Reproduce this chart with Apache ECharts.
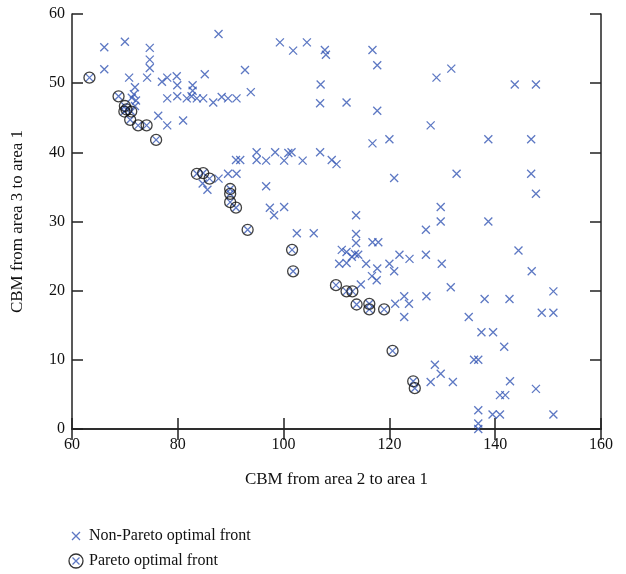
<!DOCTYPE html>
<html>
<head>
<meta charset="utf-8">
<script src="https://cdn.jsdelivr.net/npm/echarts@6/dist/echarts.min.js"></script>
<style>
  html, body { margin: 0; padding: 0; background: #fff; }
  #main { width: 626px; height: 574px; }
</style>
</head>
<body>
<div id="main"></div>
<script>
// non-Pareto solutions
var nonParetoX = [
    66.1, 66.1, 70.0, 70.8, 71.9, 71.7, 71.3, 72.1, 71.9, 74.7,
    74.7, 74.7, 74.2, 77.0, 78.0, 79.8, 79.9, 82.8, 82.8, 85.1,
    87.7, 92.7, 93.8, 78.0, 79.9, 81.7, 82.6, 83.6, 84.8, 86.7,
    88.3, 89.5, 91.1, 76.3, 78.0, 81.0,
    99.3, 101.8, 104.4, 107.8, 108.0, 116.8, 117.7, 131.7, 128.9, 143.7,
    147.7, 107.0, 106.9, 111.9, 117.7, 127.8, 116.8, 120.0, 138.7, 146.8,
    120.9, 132.7, 146.8, 147.7, 129.7,
    91.0, 91.8, 94.9, 94.9, 96.7, 98.4, 100.1, 100.9, 101.5, 103.6,
    106.9, 109.1, 110.0, 96.7, 97.4, 98.2, 100.1, 102.5, 105.7,
    84.7, 85.6, 87.7, 89.5, 91.1,
    113.7, 113.7, 113.7, 116.8, 117.9, 111.0, 111.9, 112.9, 113.5, 114.1,
    110.5, 111.9, 115.6, 117.7, 116.7, 117.6, 114.6, 120.0, 120.9, 121.9,
    123.8, 126.9, 126.9, 129.7, 129.9, 138.7, 144.4, 146.9, 121.1, 122.8,
    123.7, 127.0, 122.8, 131.6, 151.0, 138.0, 142.7, 148.8, 151.0, 135.0,
    137.4, 139.6, 141.7, 136.0, 136.8, 128.6, 129.7, 127.8, 132.0, 142.8,
    147.7, 140.9, 141.9, 136.8, 139.5, 140.9, 151.0, 136.8, 136.8
];
var nonParetoY = [
    55.2, 52.0, 56.0, 50.8, 49.4, 48.4, 47.9, 47.5, 46.7, 55.1,
    53.4, 52.2, 50.8, 50.2, 50.8, 51.0, 49.7, 49.7, 48.9, 51.3,
    57.1, 51.9, 48.7, 47.8, 48.1, 47.8, 48.1, 47.8, 47.8, 47.2,
    48.0, 47.8, 47.8, 45.3, 43.9, 44.6,
    55.9, 54.7, 55.9, 54.8, 54.1, 54.8, 52.6, 52.1, 50.8, 49.8,
    49.8, 49.8, 47.1, 47.2, 46.0, 43.9, 41.3, 41.9, 41.9, 41.9,
    36.3, 36.9, 36.9, 34.0, 32.1,
    38.9, 38.9, 40.0, 38.9, 38.8, 40.0, 38.8, 39.9, 40.0, 38.8,
    40.0, 38.9, 38.3, 35.1, 32.0, 30.9, 32.1, 28.3, 28.3,
    35.5, 34.6, 36.2, 36.9, 36.9,
    30.9, 28.2, 26.9, 27.0, 27.0, 25.9, 25.6, 24.9, 25.3, 25.2,
    23.9, 24.0, 23.9, 23.2, 22.1, 21.5, 20.9, 23.9, 22.8, 25.2,
    24.6, 25.2, 28.8, 30.0, 23.9, 30.0, 25.8, 22.8, 18.1, 19.2,
    18.1, 19.2, 16.2, 20.5, 19.9, 18.8, 18.8, 16.8, 16.8, 16.2,
    14.0, 14.0, 11.9, 10.0, 10.0, 9.3, 8.0, 6.8, 6.8, 6.9,
    5.8, 4.9, 4.9, 2.7, 2.1, 2.1, 2.1, 0.8, 0.0
];

// Pareto optimal front
var paretoX = [
    63.3, 68.8, 70.0, 70.3, 69.9, 71.2, 71.0, 72.5, 74.1, 75.9,
    83.6, 84.8, 86.0, 89.9, 89.9, 89.9, 91.0, 93.2, 101.6, 101.8,
    109.9, 111.9, 113.0, 113.8, 116.2, 116.2, 119.0, 120.6, 124.5, 124.8
];
var paretoY = [
    50.8, 48.1, 46.7, 46.2, 45.9, 45.9, 44.7, 43.9, 43.9, 41.8,
    36.9, 37.0, 36.2, 34.7, 34.0, 32.8, 32.0, 28.8, 25.9, 22.8,
    20.8, 19.9, 19.9, 18.0, 18.1, 17.3, 17.3, 11.3, 6.9, 5.9
];

var xTicks = [60, 80, 100, 120, 140, 160];
var yTicks = [0, 10, 20, 30, 40, 50, 60];

var blue = '#3556b4';
var crossPath = 'path://M0,0L10,10M10,0L0,10';
var font = '"Liberation Serif", "DejaVu Serif", serif';

function pairs(xs, ys) {
    var out = [];
    for (var i = 0; i < xs.length; i++) out.push([xs[i], ys[i]]);
    return out;
}

// small x inside a wide box so the legend icon keeps the reference's size
var legendCross = 'image://data:image/svg+xml;utf8,' + encodeURIComponent(
    '<svg xmlns="http://www.w3.org/2000/svg" width="16" height="16" viewBox="0 0 16 16">' +
    '<path d="M4,4L12,12M12,4L4,12" stroke="' + blue + '" stroke-width="1.3"/>' +
    '</svg>');
var paretoIcon = 'image://data:image/svg+xml;utf8,' + encodeURIComponent(
    '<svg xmlns="http://www.w3.org/2000/svg" width="16" height="16" viewBox="0 0 16 16">' +
    '<circle cx="8" cy="8" r="7" fill="none" stroke="#000" stroke-width="1.3"/>' +
    '<path d="M4.5,4.5L11.5,11.5M11.5,4.5L4.5,11.5" stroke="' + blue + '" stroke-width="1.3"/>' +
    '</svg>');

var chart = echarts.init(document.getElementById('main'));

var axisLine = {show: true, lineStyle: {color: '#222', width: 1.5}};
var axisTick = {show: true, inside: true, length: 11, lineStyle: {color: '#222', width: 1.5}};

chart.setOption({
    animation: false,
    textStyle: {fontFamily: font},
    grid: {left: 72, top: 14, width: 529, height: 415},
    legend: {
        orient: 'vertical',
        left: 68,
        top: 528,
        padding: 0,
        itemGap: 9,
        itemWidth: 16,
        itemHeight: 16,
        textStyle: {fontFamily: font, fontSize: 16, color: '#111'},
        data: [
            {name: 'Non-Pareto optimal front', icon: legendCross},
            {name: 'Pareto optimal front', icon: paretoIcon}
        ]
    },
    xAxis: [{
        type: 'value',
        min: xTicks[0],
        max: xTicks[xTicks.length - 1],
        interval: 20,
        name: 'CBM from area 2 to area 1',
        nameLocation: 'middle',
        nameGap: 42,
        nameTextStyle: {fontFamily: font, fontSize: 17, color: '#111'},
        axisLine: axisLine,
        axisTick: axisTick,
        axisLabel: {fontFamily: font, fontSize: 16, color: '#111', margin: 8},
        splitLine: {show: false}
    }, {
        type: 'value',
        position: 'top',
        min: 60, max: 160, interval: 20,
        axisLine: axisLine,
        axisTick: axisTick,
        axisLabel: {show: false},
        splitLine: {show: false}
    }],
    yAxis: [{
        type: 'value',
        min: yTicks[0],
        max: yTicks[yTicks.length - 1],
        interval: 10,
        name: 'CBM from area 3 to area 1',
        nameLocation: 'middle',
        nameGap: 46,
        nameTextStyle: {fontFamily: font, fontSize: 17, color: '#111'},
        axisLine: axisLine,
        axisTick: axisTick,
        axisLabel: {fontFamily: font, fontSize: 16, color: '#111', margin: 7},
        splitLine: {show: false}
    }, {
        type: 'value',
        position: 'right',
        min: 0, max: 60, interval: 10,
        axisLine: axisLine,
        axisTick: axisTick,
        axisLabel: {show: false},
        splitLine: {show: false}
    }],
    series: [{
        name: 'Non-Pareto optimal front',
        type: 'scatter',
        symbol: crossPath,
        symbolSize: 8,
        itemStyle: {color: 'transparent', borderColor: blue, borderWidth: 1.3},
        data: pairs(nonParetoX, nonParetoY)
    }, {
        name: 'pareto-cross',
        type: 'scatter',
        symbol: crossPath,
        symbolSize: 7,
        itemStyle: {color: 'transparent', borderColor: blue, borderWidth: 1.3},
        data: pairs(paretoX, paretoY)
    }, {
        name: 'Pareto optimal front',
        type: 'scatter',
        symbol: 'circle',
        symbolSize: 11,
        itemStyle: {color: 'transparent', borderColor: '#111', borderWidth: 1.3},
        data: pairs(paretoX, paretoY)
    }]
});
</script>
</body>
</html>
